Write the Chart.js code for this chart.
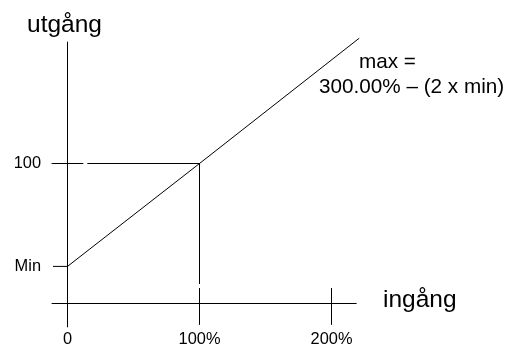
<!DOCTYPE html>
<html>
<head>
<meta charset="utf-8">
<script src="https://cdn.jsdelivr.net/npm/chart.js@4/dist/chart.umd.min.js"></script>
<style>
  html, body { margin: 0; padding: 0; background: #fff; }
  #wrap { width: 506px; height: 345px; }
</style>
</head>
<body>
<div id="wrap"><canvas id="diagram" width="506" height="345"></canvas></div>
<script>
// input (ingång) and output (utgång), both in percent
const inputTicks = [0, 100, 200];
const inputTickLabels = ['0', '100%', '200%'];
const outputTicks = [26.5, 100];
const outputTickLabels = ['Min', '100'];

// transfer curve: Min at 0 input, 100 at 100 % input, then on up to max
const curveIn = [0, 100, 221];
const curveOut = [26.5, 100, 189.5];

// axis extents
const inputAxisRange = [-12, 219];
const outputAxisRange = [-17, 187];

// guide lines
const guide100Left = [-12, 12];
const guide100Right = [15, 100];
const guideMinIn = [-11, 0];
const guideDownOut = [100, 14];
const tickMarkOut = [11, -15];

const FONT = "'Liberation Sans', Arial, sans-serif";

const seg = (xs, ys) => xs.map((x, i) => ({ x: x, y: ys[i] }));
const line = (points) => ({
    data: points,
    showLine: true,
    borderColor: '#000',
    borderWidth: 1,
    pointRadius: 0,
    clip: false,
    tension: 0
});

const datasets = [
    line(seg([0, 0], outputAxisRange)),
    line(seg(inputAxisRange, [0, 0])),
    line(seg(curveIn, curveOut)),
    line(seg(guide100Left, [outputTicks[1], outputTicks[1]])),
    line(seg(guide100Right, [outputTicks[1], outputTicks[1]])),
    line(seg(guideMinIn, [outputTicks[0], outputTicks[0]])),
    line(seg([inputTicks[1], inputTicks[1]], guideDownOut)),
    line(seg([inputTicks[1], inputTicks[1]], tickMarkOut)),
    line(seg([inputTicks[2], inputTicks[2]], tickMarkOut))
];

// texts drawn on top, placed through the scales where they belong to a value
const labelsPlugin = {
    id: 'labels',
    afterDraw(chart) {
        const ctx = chart.ctx;
        const xs = chart.scales.x;
        const ys = chart.scales.y;
        ctx.save();
        ctx.fillStyle = '#000';

        ctx.font = '16.4px ' + FONT;
        ctx.textAlign = 'center';
        ctx.textBaseline = 'alphabetic';
        inputTicks.forEach((v, i) => {
            ctx.fillText(inputTickLabels[i], xs.getPixelForValue(v), 344);
        });

        ctx.textAlign = 'right';
        ctx.textBaseline = 'middle';
        outputTicks.forEach((v, i) => {
            ctx.fillText(outputTickLabels[i], 41, ys.getPixelForValue(v));
        });

        ctx.textAlign = 'left';
        ctx.textBaseline = 'alphabetic';
        ctx.font = '24.5px ' + FONT;
        ctx.fillText('utgång', 27, 32);
        ctx.fillText('ingång', 383, 307);

        ctx.font = '20.7px ' + FONT;
        ctx.fillText('max =', 359, 68);
        ctx.fillText('300.00% \u2013 (2 x min)', 319, 93);
        ctx.restore();
    }
};

new Chart(document.getElementById('diagram'), {
    type: 'scatter',
    data: { datasets: datasets },
    options: {
        responsive: false,
        animation: false,
        layout: { padding: { left: 67.5, right: 174.5, top: 163.5, bottom: 41.5 } },
        scales: {
            x: { type: 'linear', min: 0, max: 200, display: false },
            y: { type: 'linear', min: 0, max: 100, display: false }
        },
        plugins: {
            legend: { display: false },
            tooltip: { enabled: false }
        },
        events: []
    },
    plugins: [labelsPlugin]
});
</script>
</body>
</html>
